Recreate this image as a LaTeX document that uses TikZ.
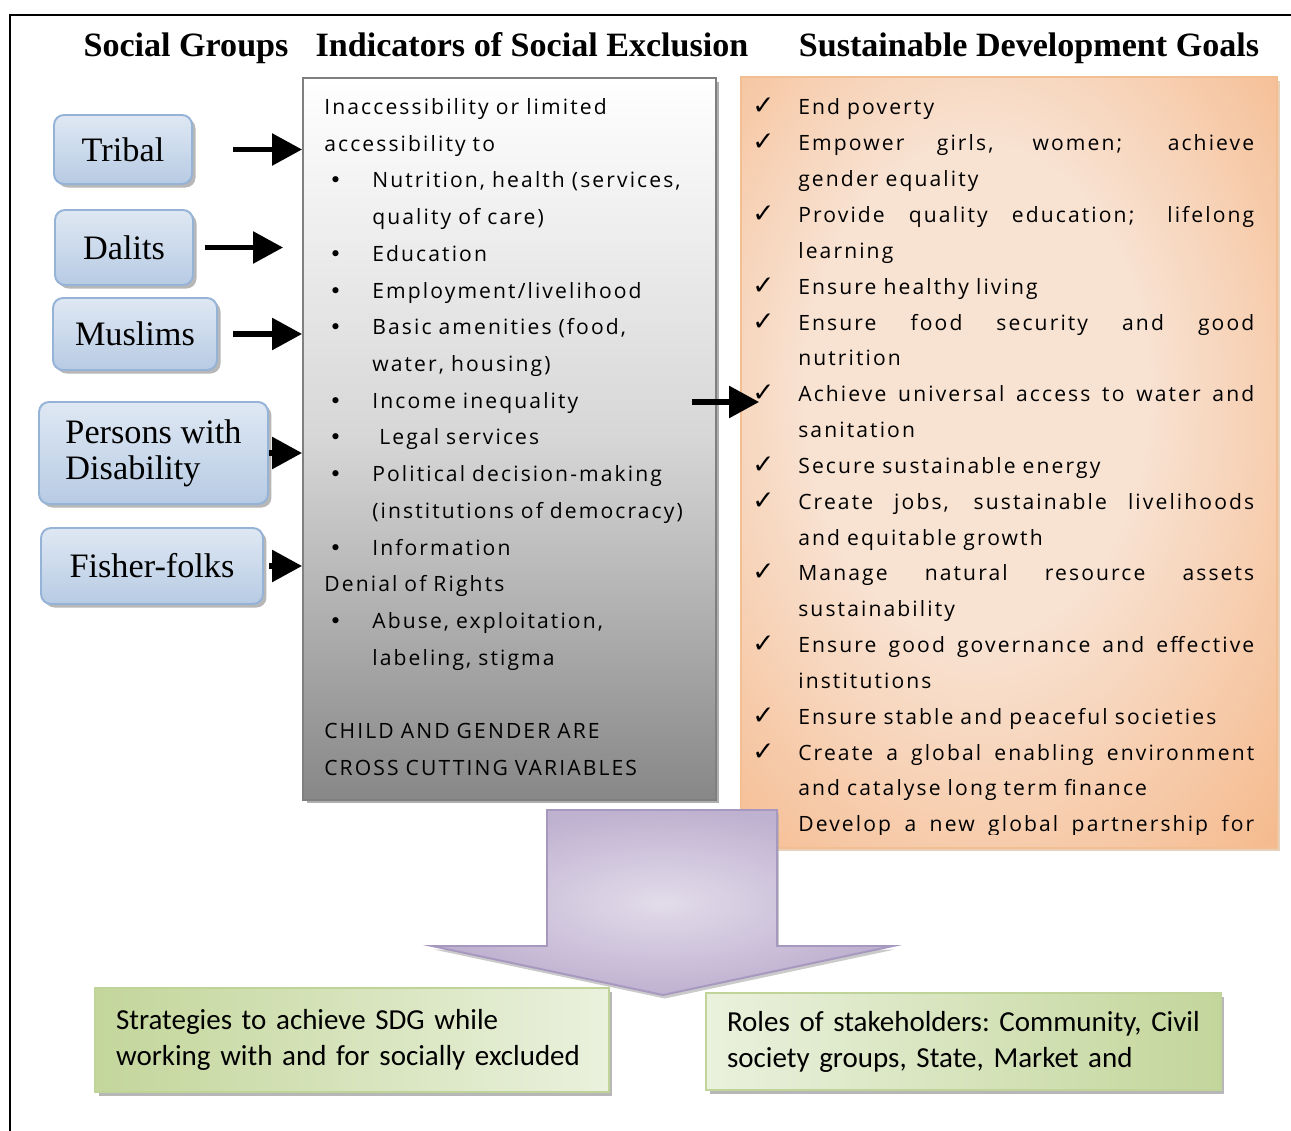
\documentclass[tikz,border=0pt]{standalone}
\usepackage{fontspec}
\setmainfont{Liberation Serif}
\newfontfamily\boxfont[LetterSpace=10]{Open Sans}
\newfontfamily\narrowfont{Carlito}
\newfontfamily\symfont{DejaVu Sans}
\usetikzlibrary{arrows.meta,shadows}

\definecolor{grptop}{HTML}{DFE8F3}
\definecolor{grpbot}{HTML}{B7CBE4}
\definecolor{grpline}{HTML}{95B3D7}
\definecolor{indline}{HTML}{7F7F7F}
\definecolor{sdglight}{HTML}{F8E2D2}
\definecolor{sdgdark}{HTML}{F5B788}
\definecolor{sdgline}{HTML}{F2BE92}
\definecolor{purlight}{HTML}{E2DCEA}
\definecolor{purdark}{HTML}{BFB1D0}
\definecolor{purline}{HTML}{A798C0}
\definecolor{grnlight}{HTML}{EAF1DD}
\definecolor{grndark}{HTML}{C3D69B}
\definecolor{grnline}{HTML}{C0D49A}

\pgfdeclareradialshading{sdgglow}{\pgfpoint{-4bp}{6bp}}{color(0bp)=(sdglight); color(16bp)=(sdglight); color(40bp)=(sdgdark); color(70bp)=(sdgdark)}

% bullets and ticks for the two lists
\newcommand{\bul}{\makebox[0.96cm][l]{\hspace{0.1cm}{\symfont\fontsize{12}{12}\selectfont •}}}
\newcommand{\ind}{\hspace*{0.96cm}}
\newcommand{\tick}{\makebox[0.92cm][l]{\symfont\fontsize{15}{15}\selectfont ✓}}
\newcommand{\gap}{\hspace*{0.92cm}}
\newcommand{\jline}[1]{\makebox[9.12cm][s]{\spaceskip=0.3em plus 1fil\relax #1}}

\begin{document}
\begin{tikzpicture}[x=0.02cm, y=-0.02cm,
    headline/.style={anchor=base, inner sep=0pt, font=\bfseries\fontsize{19.4}{21}\selectfont},
    grpbox/.style={draw=grpline, line width=1.1pt, rounded corners=0.2cm, top color=grptop, bottom color=grpbot,
      drop shadow={shadow xshift=2pt, shadow yshift=-2pt, fill=black!40, opacity=0.7},
      inner sep=0pt, align=left, font=\fontsize{19.5}{20.4}\selectfont},
    bigarrow/.style={line width=3.2pt, -{Triangle[length=0.6cm, width=0.62cm]}},
    listtext/.style={anchor=base west, inner sep=0pt, align=left, text width=9.5cm},
    grnbox/.style={draw=grnline, line width=1pt, inner xsep=0.42cm, align=left,
      drop shadow={shadow xshift=2pt, shadow yshift=-2pt, fill=black!40, opacity=0.7},
      font=\narrowfont\frenchspacing\fontsize{16.5}{20.4}\selectfont}]
  \useasboundingbox (0,0) rectangle (1291,1131);
  \draw[line width=1.1pt] (10,1131) -- (10,15) -- (1291,15);

  % column heads
  \node[headline] (hgroups) at (186,57) {Social Groups};
  \node[headline] (hindic) at (532,57) {Indicators of Social Exclusion};
  \node[headline] (hsdg) at (1029,57) {Sustainable Development Goals};

  % social groups
  \node[grpbox, minimum width=2.76cm, minimum height=1.38cm] (tribal) at (123,149.5) {Tribal};
  \node[grpbox, minimum width=2.76cm, minimum height=1.5cm] (dalits) at (124,247.5) {Dalits};
  \node[grpbox, minimum width=3.28cm, minimum height=1.44cm] (muslims) at (135,334) {Muslims};
  \node[grpbox, minimum width=4.58cm, minimum height=2.04cm] (disab) at (153.5,453) {Persons with\\Disability};
  \node[grpbox, minimum width=4.44cm, minimum height=1.52cm] (fisher) at (152,566) {Fisher-folks};

  % indicators
  \node[draw=indline, line width=1.1pt, top color=white, bottom color=black!47, middle color=black!16,
    drop shadow={shadow xshift=2pt, shadow yshift=-2pt, fill=black!45, opacity=0.7},
    minimum width=8.26cm, minimum height=14.44cm] (indic) at (509.5,439) {};
  \node[listtext, font=\boxfont\fontsize{12}{20.9}\selectfont] (indictext) at (324,114.5)
    {Inaccessibility or limited\\
     accessibility to\\
     \bul Nutrition, health (services,\\
     \ind quality of care)\\
     \bul Education\\
     \bul Employment/livelihood\\
     \bul Basic amenities (food,\\
     \ind water, housing)\\
     \bul Income inequality\\
     \bul\hspace{0.14cm}Legal services\\
     \bul Political decision-making\\
     \ind (institutions of democracy)\\
     \bul Information\\
     Denial of Rights\\
     \bul Abuse, exploitation,\\
     \ind labeling, stigma\\
     \mbox{}\\
     CHILD AND GENDER ARE\\
     CROSS CUTTING VARIABLES};

  % goals
  \node[draw=sdgline, line width=1.1pt, shading=sdgglow,
    drop shadow={shadow xshift=2pt, shadow yshift=-2pt, fill=brown!60, opacity=0.6},
    minimum width=10.72cm, minimum height=15.42cm] (sdg) at (1009,462.5) {};
  \begin{scope}
    \clip (741,77) rectangle (1277,834);
    \node[listtext, font=\boxfont\fontsize{12}{20.4}\selectfont] (sdgtext) at (752,115)
      {\tick End poverty\\
       \tick\jline{Empower girls, women; achieve}\\
       \gap gender equality\\
       \tick\jline{Provide quality education; lifelong}\\
       \gap learning\\
       \tick Ensure healthy living\\
       \tick\jline{Ensure food security and good}\\
       \gap nutrition\\
       \tick\jline{Achieve universal access to water and}\\
       \gap sanitation\\
       \tick Secure sustainable energy\\
       \tick\jline{Create jobs, sustainable livelihoods}\\
       \gap and equitable growth\\
       \tick\jline{Manage natural resource assets}\\
       \gap sustainability\\
       \tick\jline{Ensure good governance and effective}\\
       \gap institutions\\
       \tick Ensure stable and peaceful societies\\
       \tick\jline{Create a global enabling environment}\\
       \gap and catalyse long term finance\\
       \tick\jline{Develop a new global partnership for}};
  \end{scope}

  % arrows into the indicators and on to the goals
  \draw[bigarrow, shorten <=0.8cm] (tribal.east) -- (tribal.east -| indic.west);
  \draw[bigarrow, shorten <=0.22cm, shorten >=0.38cm] (dalits.east) -- (dalits.east -| indic.west);
  \draw[bigarrow, shorten <=0.3cm] (muslims.east) -- (muslims.east -| indic.west);
  \draw[bigarrow] (disab.east) -- (disab.east -| indic.west);
  \draw[bigarrow, shorten <=0.1cm] (fisher.east) -- (fisher.east -| indic.west);
  \coordinate (exout) at (692,402);
  \draw[bigarrow, shorten >=-0.38cm] (exout) -- (exout -| sdg.west);

  % big arrow down
  \draw[draw=purline, line width=1.1pt, inner color=purlight, outer color=purdark,
    drop shadow={shadow xshift=1pt, shadow yshift=-2pt, fill=black!35, opacity=0.6}]
    (547,810) -- (777,810) -- (777,946) -- (893,946) -- (663,995) -- (432,946) -- (547,946) -- cycle;

  % outcomes
  \node[grnbox, left color=grndark, right color=grnlight, text width=9.44cm, minimum height=2.08cm] (strat) at (352,1040)
    {Strategies to achieve SDG while\\working with and for socially excluded};
  \node[grnbox, left color=grnlight, right color=grndark, text width=9.46cm, minimum height=1.94cm] (roles) at (963.5,1041.5)
    {Roles of stakeholders: Community, Civil\\society groups, State, Market and};
\end{tikzpicture}
\end{document}
